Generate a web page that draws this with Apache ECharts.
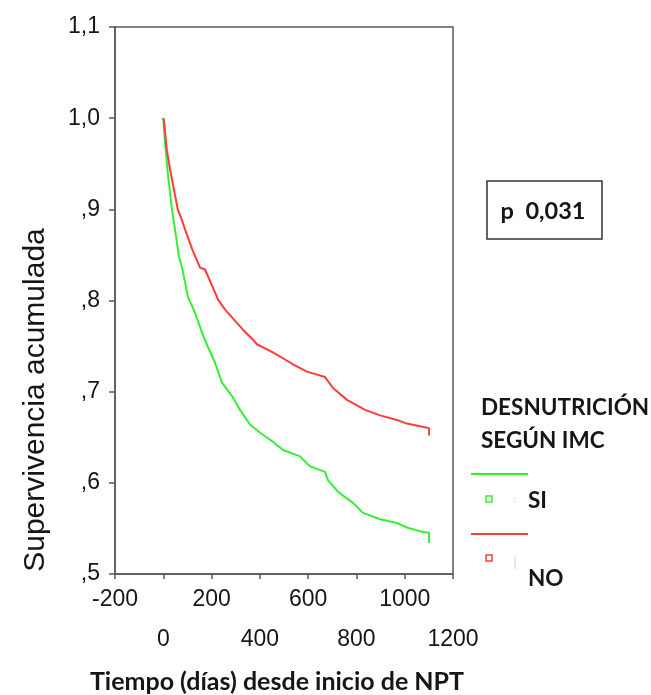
<!DOCTYPE html>
<html>
<head>
<meta charset="utf-8">
<script src="https://cdn.jsdelivr.net/npm/echarts@6/dist/echarts.min.js"></script>
<style>
  html, body { margin: 0; padding: 0; background: #fff; }
  #chart { width: 651px; height: 695px; }
</style>
</head>
<body>
<div id="chart"></div>
<script>
// datos (dias, supervivencia acumulada)
var diasNo = [0, 4, 14, 28, 44, 60, 76, 90, 120, 152, 173, 227, 256, 330, 372, 388, 454, 525, 537, 595, 670, 703, 761, 836, 898, 968, 1009, 1063, 1101, 1101]
var supNo = [1.0, 0.995, 0.966, 0.944, 0.922, 0.900, 0.889, 0.878, 0.856, 0.836, 0.834, 0.801, 0.790, 0.768, 0.757, 0.752, 0.743, 0.732, 0.730, 0.722, 0.716, 0.704, 0.691, 0.680, 0.674, 0.669, 0.665, 0.662, 0.660, 0.652]
var diasSi = [0, 7, 20, 36, 53, 65, 78, 102, 131, 160, 185, 214, 243, 285, 318, 359, 401, 454, 496, 566, 608, 670, 682, 724, 786, 827, 898, 968, 1009, 1063, 1101, 1101]
var supSi = [1.0, 0.974, 0.936, 0.900, 0.870, 0.848, 0.836, 0.804, 0.787, 0.765, 0.749, 0.732, 0.710, 0.695, 0.680, 0.664, 0.655, 0.645, 0.636, 0.629, 0.618, 0.612, 0.603, 0.590, 0.578, 0.567, 0.560, 0.556, 0.551, 0.547, 0.545, 0.534]
var grupos = ['SI', 'NO']
var pValor = 'p  0,031'

function pares(xs, ys) {
    return xs.map(function (x, i) { return [x, ys[i]] })
}

var myChart = echarts.init(document.getElementById('chart'))
var txt = '#161616'
var eje = '#5a5a5a'
var negrita = { fontWeight: 'bold', fontFamily: 'Lato', fill: txt }

// etiquetas del eje X en dos filas alternas
function etiquetaX(fila, margen) {
    return {
        interval: 0,
        margin: margen,
        lineHeight: 26,
        fontSize: 23,
        fontFamily: 'Liberation Sans',
        color: txt,
        formatter: function (v) {
            var i = Math.round((v + 200) / 200)
            return i % 2 === fila ? String(v) : ''
        },
    }
}

myChart.setOption({
    animation: false,
    grid: {
        left: 115, right: 198, top: 27, bottom: 121,
        show: true,
        borderColor: eje,
        borderWidth: 1.5,
    },
    xAxis: [{
        type: 'value',
        min: -200, max: 1200, interval: 200,
        splitLine: { show: false },
        axisLine: { onZero: false, lineStyle: { color: eje, width: 1.5 } },
        axisTick: { show: true, length: 5, lineStyle: { color: eje, width: 1.5 } },
        axisLabel: etiquetaX(0, 13),
    }, {
        type: 'value',
        position: 'bottom',
        min: -200, max: 1200, interval: 200,
        splitLine: { show: false },
        axisLine: { show: false, onZero: false },
        axisTick: { show: false },
        axisLabel: etiquetaX(1, 53),
    }],
    yAxis: {
        type: 'value',
        min: 0.5, max: 1.1, interval: 0.1,
        splitLine: { show: false },
        axisLine: { show: true, onZero: false, lineStyle: { color: eje, width: 1.5 } },
        axisTick: { show: true, length: 6, lineStyle: { color: eje, width: 1.5 } },
        axisLabel: {
            margin: 15,
            fontSize: 23,
            fontFamily: 'Liberation Sans',
            color: txt,
            formatter: function (v) {
                if (v >= 0.999) return v.toFixed(1).replace('.', ',')
                return ',' + Math.round(v * 10)
            },
        },
    },
    series: [{
        name: grupos[0],
        type: 'line',
        symbol: 'none',
        data: pares(diasSi, supSi),
        lineStyle: { color: '#33f033', width: 2 },
        z: 2,
    }, {
        name: grupos[1],
        type: 'line',
        symbol: 'none',
        data: pares(diasNo, supNo),
        lineStyle: { color: '#ff3c3c', width: 2 },
        z: 3,
    }],
    graphic: [
        // titulo eje Y
        {
            type: 'text', x: 36, y: 400, rotation: Math.PI / 2,
            style: {
                text: 'Supervivencia acumulada', fontSize: 30, fontFamily: 'Liberation Sans',
                fill: txt, align: 'center', verticalAlign: 'middle',
            },
        },
        // titulo eje X
        {
            type: 'text', x: 277, y: 682,
            style: Object.assign({ text: 'Tiempo (días) desde inicio de NPT', fontSize: 25,
                align: 'center', verticalAlign: 'middle' }, negrita),
        },
        // recuadro p
        {
            type: 'rect', shape: { x: 487, y: 181, width: 115, height: 58 },
            style: { fill: '#fff', stroke: '#333', lineWidth: 1.5 },
        },
        {
            type: 'text', x: 543, y: 211,
            style: Object.assign({ text: pValor, fontSize: 23.5,
                align: 'center', verticalAlign: 'middle' }, negrita),
        },
        // leyenda
        {
            type: 'text', x: 481, y: 408,
            style: Object.assign({ text: 'DESNUTRICIÓN', fontSize: 22.5,
                align: 'left', verticalAlign: 'middle' }, negrita),
        },
        {
            type: 'text', x: 481, y: 441,
            style: Object.assign({ text: 'SEGÚN IMC', fontSize: 22.5,
                align: 'left', verticalAlign: 'middle' }, negrita),
        },
        {
            type: 'line', shape: { x1: 471, y1: 474, x2: 528, y2: 474 },
            style: { stroke: '#33f033', lineWidth: 2 },
        },
        {
            type: 'rect', shape: { x: 486, y: 496, width: 6, height: 6 },
            style: { fill: 'none', stroke: '#33f033', lineWidth: 1.5 },
        },
        {
            type: 'line', shape: { x1: 515, y1: 498, x2: 515, y2: 503 },
            style: { stroke: '#ecc9a4', lineWidth: 1, lineDash: [1, 2] },
        },
        {
            type: 'text', x: 528, y: 501,
            style: Object.assign({ text: grupos[0], fontSize: 22.5,
                align: 'left', verticalAlign: 'middle' }, negrita),
        },
        {
            type: 'line', shape: { x1: 471, y1: 534, x2: 528, y2: 534 },
            style: { stroke: '#ff3c3c', lineWidth: 2 },
        },
        {
            type: 'rect', shape: { x: 486, y: 555, width: 6, height: 6 },
            style: { fill: 'none', stroke: '#ff3c3c', lineWidth: 1.5 },
        },
        {
            type: 'line', shape: { x1: 515, y1: 556, x2: 515, y2: 569 },
            style: { stroke: '#ecc9a4', lineWidth: 1 },
        },
        {
            type: 'text', x: 528, y: 579,
            style: Object.assign({ text: grupos[1], fontSize: 22.5,
                align: 'left', verticalAlign: 'middle' }, negrita),
        },
    ],
})
</script>
</body>
</html>
